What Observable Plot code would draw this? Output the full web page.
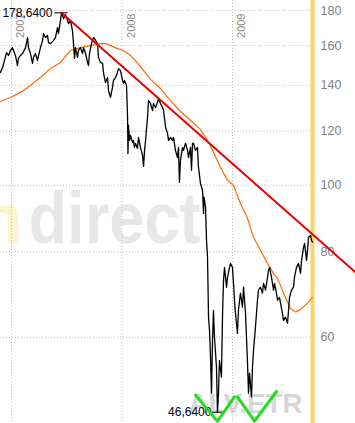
<!DOCTYPE html>
<html><head><meta charset="utf-8">
<script src="https://cdn.jsdelivr.net/npm/d3@7"></script>
<script src="https://cdn.jsdelivr.net/npm/@observablehq/plot@0.6"></script>
<style>body{margin:0;background:#fff}</style>
</head><body><div id="chart"></div>
<script>
// Time as decimal years
const priceT = [2006.900,2006.919,2006.937,2006.955,2006.973,2006.991,2007.009,2007.036,2007.054,2007.063,
2007.081,2007.100,2007.127,2007.145,2007.154,2007.172,2007.190,2007.199,2007.217,2007.235,
2007.262,2007.281,2007.290,2007.308,2007.326,2007.335,2007.353,2007.380,2007.398,2007.416,
2007.425,2007.443,2007.452,2007.462,2007.471,2007.489,2007.507,2007.516,2007.534,2007.552,
2007.561,2007.570,2007.579,2007.597,2007.606,2007.624,2007.643,2007.652,2007.670,2007.688,
2007.697,2007.706,2007.724,2007.742,2007.751,2007.778,2007.787,2007.805,2007.824,2007.833,
2007.851,2007.869,2007.878,2007.896,2007.914,2007.923,2007.941,2007.959,2007.968,2007.986,
2008.005,2008.014,2008.023,2008.041,2008.050,2008.054,2008.059,2008.068,2008.077,2008.095,
2008.104,2008.113,2008.122,2008.140,2008.149,2008.167,2008.186,2008.195,2008.204,2008.213,
2008.231,2008.240,2008.258,2008.276,2008.285,2008.303,2008.321,2008.330,2008.348,2008.367,
2008.376,2008.394,2008.412,2008.421,2008.439,2008.457,2008.466,2008.484,2008.502,2008.511,
2008.520,2008.529,2008.548,2008.557,2008.575,2008.593,2008.602,2008.620,2008.629,2008.638,
2008.647,2008.665,2008.683,2008.692,2008.710,2008.729,2008.738,2008.742,2008.756,2008.765,
2008.774,2008.778,2008.783,2008.792,2008.801,2008.810,2008.819,2008.828,2008.837,2008.855,
2008.864,2008.873,2008.882,2008.900,2008.910,2008.919,2008.928,2008.946,2008.955,2008.973,
2008.982,2009.000,2009.009,2009.018,2009.027,2009.045,2009.054,2009.072,2009.090,2009.100,
2009.118,2009.136,2009.145,2009.154,2009.172,2009.181,2009.190,2009.208,2009.226,2009.235,
2009.253,2009.271,2009.281,2009.299,2009.317,2009.326,2009.335,2009.353,2009.371,2009.380,
2009.398,2009.407,2009.425,2009.452,2009.462,2009.480,2009.498,2009.507,2009.516,2009.534,
2009.552,2009.561,2009.579,2009.597,2009.616,2009.625,2009.643,2009.652,2009.670,2009.679,
2009.688,2009.706,2009.715,2009.724];
const price = [146.2,148.6,152.2,156.3,154.8,157.4,158.9,154.8,149.6,153.3,
154.8,155.8,158.9,164.4,158.9,155.8,150.7,153.8,155.8,152.2,
158.9,162.7,166.6,164.4,165.5,161.6,161.1,162.7,164.4,170.0,
166.6,174.1,178.64,177.0,175.2,177.5,174.1,172.3,174.1,168.3,
161.1,153.3,158.9,153.8,157.4,158.9,155.8,158.9,155.8,151.2,
149.6,155.8,161.1,164.4,163.8,161.1,153.8,151.2,150.7,145.7,
141.3,143.7,137.6,134.4,139.0,142.3,143.7,146.2,148.1,147.1,
142.3,140.9,142.3,139.9,126.5,111.3,122.4,116.3,118.3,115.5,
116.3,113.6,115.2,113.2,117.5,113.6,110.6,106.6,112.5,116.3,
125.7,133.0,131.7,128.6,131.7,129.9,132.1,133.9,131.7,129.9,
128.6,121.6,119.1,116.3,117.5,116.3,117.5,112.5,109.8,113.6,
101.0,108.8,113.6,112.5,115.2,112.5,109.8,113.6,105.2,115.2,
115.2,112.5,113.6,106.3,100.7,98.3,91.0,96.1,92.9,83.1,
78.5,71.9,64.2,61.4,56.1,49.7,59.4,65.7,60.0,54.3,
46.64,49.7,55.5,52.5,65.0,72.7,75.9,71.0,73.4,75.9,
76.9,75.9,71.9,68.0,65.0,60.8,65.7,69.6,66.4,71.0,
65.0,55.0,49.7,53.2,49.1,54.3,57.4,62.1,68.0,70.3,
71.0,69.6,71.9,70.3,73.4,75.2,75.9,73.4,70.3,71.9,
69.6,68.0,68.6,65.0,63.5,64.2,62.9,65.7,68.6,70.3,
71.0,73.4,75.9,76.9,74.4,77.7,81.2,82.3,77.7,80.4,
84.0,84.5,83.1,82.6];

const maT = [2006.900,2006.991,2007.081,2007.172,2007.262,2007.353,2007.443,2007.534,2007.624,2007.715,
2007.805,2007.851,2007.896,2007.959,2008.014,2008.077,2008.167,2008.258,2008.348,2008.439,
2008.529,2008.620,2008.710,2008.774,2008.819,2008.891,2008.955,2009.009,2009.072,2009.136,
2009.190,2009.253,2009.317,2009.371,2009.407,2009.462,2009.525,2009.570,2009.616,2009.679,2009.724];
const ma = [132.6,134.4,136.7,139.9,143.7,148.1,151.2,157.4,158.9,160.0,
161.1,161.1,160.0,158.4,157.4,154.8,149.1,142.8,138.5,133.0,
128.2,124.4,120.7,116.3,112.5,106.3,101.7,100.0,94.1,89.5,
84.0,80.4,76.9,74.4,73.2,69.6,66.1,65.3,65.9,67.3,68.6];

const trendT = [2007.452, 2010.113];
const trendV = [178.64, 74.65];

const wT = [2008.665, 2008.864, 2009.018, 2009.045, 2009.199, 2009.398];
const wV = [49.4, 45.25, 49.1, 49.1, 45.25, 50.0];
const wGroup = ["a", "a", "a", "b", "b", "b"];

const yTicks = [60, 80, 100, 120, 140, 160, 180];
const years = [2007, 2008, 2009];
const peak = {t: 2007.452, v: 178.64, label: "178,6400"};
const low = {t: 2008.864, v: 46.64, label: "46,6400"};
const lastT = 2009.724;
const brand = [{t: 2007.154, v: 82.3, text: "direct", fill: "#e7e7e7"}];
const brandCo = [{t: 2007.100, v: 82.3, text: "m", fill: "#fff3cc"}];
const ticker = [{t: 2008.602, v: 46.5, text: "ALV.ETR"}];

const priceRows = priceT.map((t, i) => ({t, v: price[i]}));
const maRows = maT.map((t, i) => ({t, v: ma[i]}));
const trendRows = trendT.map((t, i) => ({t, v: trendV[i]}));
const wRows = wT.map((t, i) => ({t, v: wV[i], g: wGroup[i]}));

const chart = Plot.plot({
  width: 355, height: 423,
  marginLeft: 0, marginRight: 43, marginTop: 0, marginBottom: 0,
  style: {fontFamily: "'Liberation Sans', Arial, sans-serif", background: "#fff"},
  x: {domain: [2006.9005, 2009.724], axis: null},
  y: {type: "log", domain: [44.9, 186.2], axis: null},
  marks: [
    Plot.text(brandCo, {x: "t", y: "v", text: "text", fill: "fill", fontSize: 73, fontWeight: "bold", textAnchor: "end", lineAnchor: "bottom"}),
    Plot.text(brand, {x: "t", y: "v", text: "text", fill: "fill", fontSize: 73, fontWeight: "bold", textAnchor: "start", lineAnchor: "bottom"}),
    Plot.text(ticker, {x: "t", y: "v", text: "text", fill: "#d6d6d6", fontSize: 28, fontWeight: "bold", textAnchor: "start", lineAnchor: "bottom"}),
    Plot.gridY(yTicks, {stroke: "#bdbdbd", strokeOpacity: 1, strokeDasharray: "1,2"}),
    Plot.gridX(years, {stroke: "#bdbdbd", strokeOpacity: 1, strokeDasharray: "1,2"}),
    Plot.ruleX([lastT], {stroke: "#f9d46a", strokeWidth: 4}),
    Plot.text(yTicks, {y: d => d, text: d => String(d), frameAnchor: "right", dx: 8, textAnchor: "start", fill: "#808080", fontSize: 12.5}),
    Plot.text(years, {x: d => d, text: d => String(d), frameAnchor: "top", dy: 13, dx: 5, rotate: -90, textAnchor: "end", fill: "#8a8a8a", fontSize: 11}),
    Plot.line(maRows, {x: "t", y: "v", stroke: "#ff6a00", strokeWidth: 1.2}),
    Plot.line(priceRows, {x: "t", y: "v", stroke: "#000", strokeWidth: 1.3}),
    Plot.line(trendRows, {x: "t", y: "v", stroke: "#ee0000", strokeWidth: 2}),
    Plot.ruleY([peak], {y: "v", x1: d => d.t - 0.06, x2: d => d.t + 0.06, stroke: "#000"}),
    Plot.ruleY([low], {y: "v", x1: d => d.t - 0.045, x2: d => d.t + 0.045, stroke: "#000"}),
    Plot.text([peak], {x: "t", y: "v", text: "label", textAnchor: "end", dx: -9, fill: "#000", fontSize: 12}),
    Plot.text([low], {x: "t", y: "v", text: "label", textAnchor: "end", dx: -6, fill: "#000", fontSize: 12}),
    Plot.line(wRows, {x: "t", y: "v", z: "g", stroke: "#22dd22", strokeWidth: 3})
  ]
});

d3.select(chart).selectAll("text").each(function() {
  const s = this.textContent;
  if (s === "direct") { this.setAttribute("textLength", 172); this.setAttribute("lengthAdjust", "spacingAndGlyphs"); }
  if (s === "ALV.ETR") { this.setAttribute("textLength", 114); this.setAttribute("lengthAdjust", "spacingAndGlyphs"); }
});
document.getElementById("chart").append(chart);
</script>
</body></html>
